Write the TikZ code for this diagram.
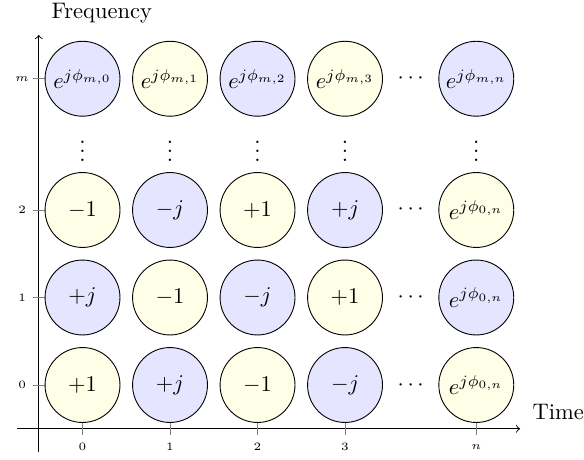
\documentclass[tikz,border=0pt]{standalone}
\begin{document}
\begin{tikzpicture}[x=38.89pt,y=38.89pt,
  cell/.style={circle,draw=black,line width=0.4pt,minimum size=33.3pt,inner sep=0pt},
  ycell/.style={cell,fill=yellow!10},
  bcell/.style={cell,fill=blue!10},
  tickmark/.style={gray,line width=0.4pt},
  ticklabel/.style={font=\fontsize{5.5}{6.5}\selectfont,inner sep=0pt},
  dotsnode/.style={inner sep=0pt},
  axisline/.style={->,line width=0.4pt}]
\useasboundingbox (-0.943,-0.846) rectangle (5.731,4.4);
% axes
\coordinate (xs) at (-0.75,-0.5);
\coordinate (xe) at (5.0,-0.5);
\coordinate (ys) at (-0.5,-0.77);
\coordinate (ye) at (-0.5,4.0);
\draw[axisline] (xs) -- (xe);
\draw[axisline] (ys) -- (ye);
\node[anchor=west,inner sep=0pt] (timelbl) at (5.14,-0.31) {Time};
\node[inner sep=0pt] (freqlbl) at (0.22,4.25) {Frequency};
% x ticks
\foreach \x/\l in {0/0,1/1,2/2,3/3,4.5/n}{
  \draw[tickmark] (\x,-0.57) -- (\x,-0.43);
  \node[ticklabel] (xl\l) at (\x,-0.71) {$\l$};
}
% y ticks
\foreach \y/\l in {0/0,1/1,2/2,3.5/m}{
  \draw[tickmark] (-0.57,\y) -- (-0.43,\y);
  \node[ticklabel] (yl\l) at (-0.69,\y) {$\l$};
}
% row 0
\node[ycell] (c00) at (0,0) {$+1$};
\node[bcell] (c01) at (1,0) {$+j$};
\node[ycell] (c02) at (2,0) {$-1$};
\node[bcell] (c03) at (3,0) {$-j$};
\node[ycell] (c0n) at (4.5,0) {$e^{j\phi_{0,n}}$};
% row 1
\node[bcell] (c10) at (0,1) {$+j$};
\node[ycell] (c11) at (1,1) {$-1$};
\node[bcell] (c12) at (2,1) {$-j$};
\node[ycell] (c13) at (3,1) {$+1$};
\node[bcell] (c1n) at (4.5,1) {$e^{j\phi_{0,n}}$};
% row 2
\node[ycell] (c20) at (0,2) {$-1$};
\node[bcell] (c21) at (1,2) {$-j$};
\node[ycell] (c22) at (2,2) {$+1$};
\node[bcell] (c23) at (3,2) {$+j$};
\node[ycell] (c2n) at (4.5,2) {$e^{j\phi_{0,n}}$};
% row m
\node[bcell] (cm0) at (0,3.5) {$e^{j\phi_{m,0}}$};
\node[ycell] (cm1) at (1,3.5) {$e^{j\phi_{m,1}}$};
\node[bcell] (cm2) at (2,3.5) {$e^{j\phi_{m,2}}$};
\node[ycell] (cm3) at (3,3.5) {$e^{j\phi_{m,3}}$};
\node[bcell] (cmn) at (4.5,3.5) {$e^{j\phi_{m,n}}$};
% dots
\foreach \y/\r in {0/0,1/1,2/2,3.5/m}{
  \node[dotsnode] (hd\r) at (3.75,\y) {$\cdots$};
}
\foreach \x/\c in {0/0,1/1,2/2,3/3,4.5/n}{
  \node[dotsnode] (vd\c) at (\x,2.75) {$\vdots$};
}
\end{tikzpicture}
\end{document}
